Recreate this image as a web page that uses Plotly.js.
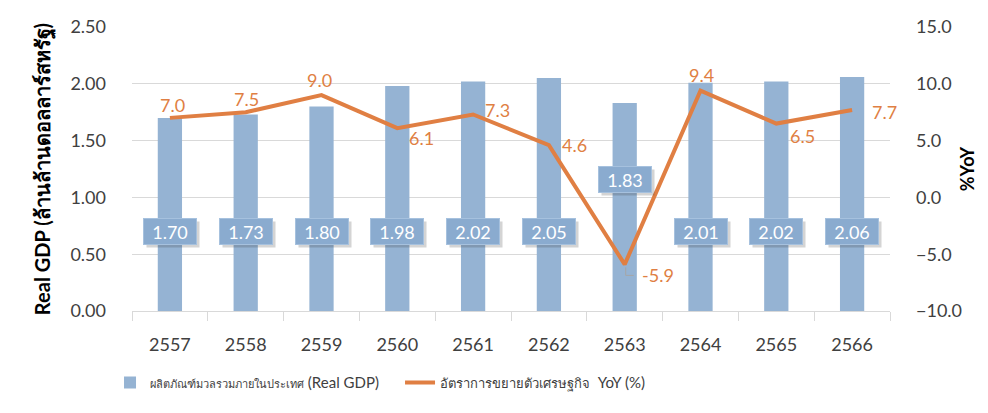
<!DOCTYPE html>
<html>
<head>
<meta charset="utf-8">
<script src="https://cdn.plot.ly/plotly-3.0.1.min.js"></script>
<style>html,body{margin:0;padding:0;background:#fff;}#chart{width:988px;height:413px;}</style>
</head>
<body>
<div id="chart"></div>
<script>
const years = ['2557','2558','2559','2560','2561','2562','2563','2564','2565','2566'];
const realGDP = [1.70, 1.73, 1.80, 1.98, 2.02, 2.05, 1.83, 2.01, 2.02, 2.06];
const yoy = [7.0, 7.5, 9.0, 6.1, 7.3, 4.6, -5.9, 9.4, 6.5, 7.7];
const gdpThai = 'ผลิตภัณฑ์มวลรวมภายในประเทศ';
const yoyThai = 'อัตราการขยายตัวเศรษฐกิจ';
const yTitleThai = 'ล้านล้านดอลลาร์สหรัฐ';

// label placement (pixel offsets from each line point), styling only
const yoyLabelShift = [[3,-13],[1,-13],[-2,-15],[24,10],[24,-4],[26,0],[33,11],[1,-16],[26,12],[32,2]];

const FONT = 'Lato, "Noto Sans", "DejaVu Sans", sans-serif';
const barColor = '#95b3d3';
const lineColor = '#e07f43';
const thaiSpan = (t, px) => '<span style="font-size:' + px + 'px">' + t + '</span>';

const traces = [
  {
    type: 'bar', x: years, y: realGDP, name: thaiSpan(gdpThai, 11) + ' (Real GDP)',
    marker: {color: barColor}, hoverinfo: 'skip', legend: 'legend'
  },
  {
    type: 'scatter', mode: 'lines', x: years, y: yoy, yaxis: 'y2',
    name: thaiSpan(yoyThai, 13) + '  YoY (%)',
    line: {color: lineColor, width: 4}, hoverinfo: 'skip', legend: 'legend2'
  }
];

const annotations = [];
realGDP.forEach((v, i) => {
  const ly = years[i] === '2563' ? 1.16 : 0.70;
  annotations.push({
    x: i, y: ly, xref: 'x', yref: 'y', xshift: 3, yshift: -3,
    text: v.toFixed(2), showarrow: false,
    font: {family: FONT, size: 18, color: 'rgba(0,0,0,0)'},
    bgcolor: 'rgba(60,60,60,0.22)', borderpad: 2, width: 48, height: 21
  });
  annotations.push({
    x: i, y: ly, xref: 'x', yref: 'y',
    text: v.toFixed(2), showarrow: false,
    font: {family: FONT, size: 18, color: '#ffffff'},
    bgcolor: '#8aabcf', bordercolor: '#a6c1de', borderwidth: 1, borderpad: 2, width: 48, height: 21
  });
});
yoy.forEach((v, i) => {
  annotations.push({
    x: i, y: v, xref: 'x', yref: 'y2',
    xshift: yoyLabelShift[i][0], yshift: -yoyLabelShift[i][1],
    text: v.toFixed(1), showarrow: false,
    font: {family: FONT, size: 18, color: lineColor}
  });
});

// small leader line for the 2563 label
const iLow = years.indexOf('2563');
const shapes = [{
  type: 'path', xref: 'x', yref: 'y2', xsizemode: 'pixel', ysizemode: 'pixel',
  xanchor: iLow, yanchor: yoy[iLow], path: 'M1,-3 L1,-11 L9,-11',
  line: {color: '#a6a6a6', width: 1}
}];

const legendBase = {orientation: 'h', xanchor: 'left', yref: 'container', y: 0.073, yanchor: 'middle',
                    font: {family: FONT, size: 15, color: '#404040'}, bgcolor: 'rgba(0,0,0,0)'};

const layout = {
  width: 988, height: 413,
  margin: {l: 132, r: 98, t: 27, b: 102, autoexpand: false},
  paper_bgcolor: '#ffffff', plot_bgcolor: '#ffffff',
  font: {family: FONT, size: 18, color: '#404040'},
  bargap: 0.68,
  showlegend: true,
  legend: Object.assign({}, legendBase, {x: -0.029}),
  legend2: Object.assign({}, legendBase, {x: 0.3536}),
  xaxis: {
    type: 'category', range: [-0.5, 9.5], autorange: false, tickangle: 0,
    showgrid: false, showline: true, linecolor: '#d9d9d9', linewidth: 1,
    ticks: 'outside', tickson: 'boundaries', ticklen: 9, tickcolor: '#d9d9d9',
    ticklabelstandoff: 17,
    tickfont: {family: FONT, size: 18, color: '#404040'}
  },
  yaxis: {
    range: [0, 2.5], autorange: false, dtick: 0.5, tickformat: '.2f', showgrid: true, gridcolor: '#d9d9d9', gridwidth: 1,
    zeroline: false, showline: false, ticks: '', ticklen: 0, ticklabelstandoff: 25,
    tickfont: {family: FONT, size: 18, color: '#404040'},
    title: {text: '<b>Real GDP (' + yTitleThai + ')</b>', font: {family: FONT, size: 20, color: '#000000'}, standoff: 14}
  },
  yaxis2: {
    overlaying: 'y', side: 'right', range: [-10, 15], autorange: false, dtick: 5, tickformat: '.1f',
    showgrid: false, zeroline: false, showline: false, ticklabelstandoff: 25,
    tickfont: {family: FONT, size: 18, color: '#404040'},
    title: {text: '<b>%YoY</b>', font: {family: FONT, size: 18, color: '#000000'}, standoff: 0}
  },
  shapes: shapes,
  annotations: annotations
};

Plotly.newPlot('chart', traces, layout, {displayModeBar: false, staticPlot: true});
</script>
</body>
</html>
